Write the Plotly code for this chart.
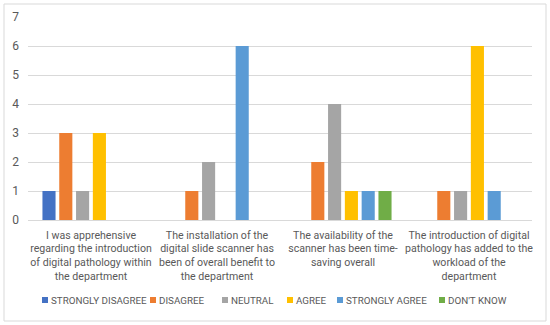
import plotly.graph_objects as go

categories = [
    "I was apprehensive regarding the introduction of digital pathology within the department",
    "The installation of the digital slide scanner has been of overall benefit to the department",
    "The availability of the scanner has been time-saving overall",
    "The introduction of digital pathology has added to the workload of the department",
]
tick_labels = [
    "I was apprehensive<br>regarding the introduction<br>of digital pathology within<br>the department",
    "The installation of the<br>digital slide scanner has<br>been of overall benefit to<br>the department",
    "The availability of the<br>scanner has been time-<br>saving overall",
    "The introduction of digital<br>pathology has added to the<br>workload of the<br>department",
]
series_names = ["STRONGLY DISAGREE", "DISAGREE", "NEUTRAL", "AGREE", "STRONGLY AGREE", "DON'T KNOW"]
strongly_disagree = [1, 0, 0, 0]
disagree = [3, 1, 2, 1]
neutral = [1, 2, 4, 1]
agree = [3, 0, 1, 6]
strongly_agree = [0, 6, 1, 1]
dont_know = [0, 0, 1, 0]
series_values = [strongly_disagree, disagree, neutral, agree, strongly_agree, dont_know]
colors = ["#4472C4", "#ED7D31", "#A5A5A5", "#FFC000", "#5B9BD5", "#70AD47"]

# pixel geometry of plot area
PL, PR, PT, PB = 28, 532, 17, 220
def px_x(px):
    return (px - PL) / (PR - PL)
def px_y(py):
    return (PB - py) / (PB - PT)

font = "Roboto, 'Liberation Sans', sans-serif"
TXT = "#595959"

fig = go.Figure()
for name, vals, col in zip(series_names, series_values, colors):
    fig.add_trace(go.Bar(name=name, x=categories, y=vals, showlegend=False,
                         marker=dict(color=col, line=dict(width=0))))

# manual legend (square + label), left edges of squares in pixels
legend_sq_left = [42, 150, 222, 287, 337, 439]
shapes = [dict(type="rect", xref="paper", yref="paper",
               x0=px_x(4), x1=px_x(546), y0=px_y(321), y1=px_y(4),
               line=dict(color="#D9D9D9", width=1), fillcolor="rgba(0,0,0,0)", layer="below")]
annotations = []
LEG_Y = 300
for name, col, sx in zip(series_names, colors, legend_sq_left):
    shapes.append(dict(type="rect", xref="paper", yref="paper",
                       x0=px_x(sx), x1=px_x(sx + 6), y0=px_y(LEG_Y + 3), y1=px_y(LEG_Y - 3),
                       line=dict(width=0), fillcolor=col))
    annotations.append(dict(text=name, xref="paper", yref="paper", x=px_x(sx + 7), y=px_y(LEG_Y),
                            xanchor="left", yanchor="middle", showarrow=False,
                            font=dict(family=font, size=9.8, color=TXT)))

fig.update_layout(
    width=550, height=325,
    margin=dict(l=PL, r=550 - PR, t=PT, b=325 - PB, autoexpand=False),
    paper_bgcolor="white", plot_bgcolor="white",
    barmode="group", bargap=0.2, bargroupgap=0.22,
    font=dict(family=font, size=12, color=TXT),
    showlegend=False,
    xaxis=dict(tickmode="array", tickvals=categories, ticktext=tick_labels,
               showgrid=False, showline=False, ticks="", tickangle=0,
               ticklabelstandoff=7,
               tickfont=dict(family=font, size=10.6, color=TXT)),
    yaxis=dict(range=[0, 7], dtick=1, showgrid=True, gridcolor="#D9D9D9", gridwidth=1,
               zeroline=True, zerolinecolor="#D9D9D9", zerolinewidth=1,
               showline=False, ticks="", ticklabelstandoff=8,
               tickfont=dict(family=font, size=12, color=TXT)),
    shapes=shapes,
    annotations=annotations,
)
fig.write_html("out.html", config={"displayModeBar": False},
               post_script="document.body.style.margin='0';")
